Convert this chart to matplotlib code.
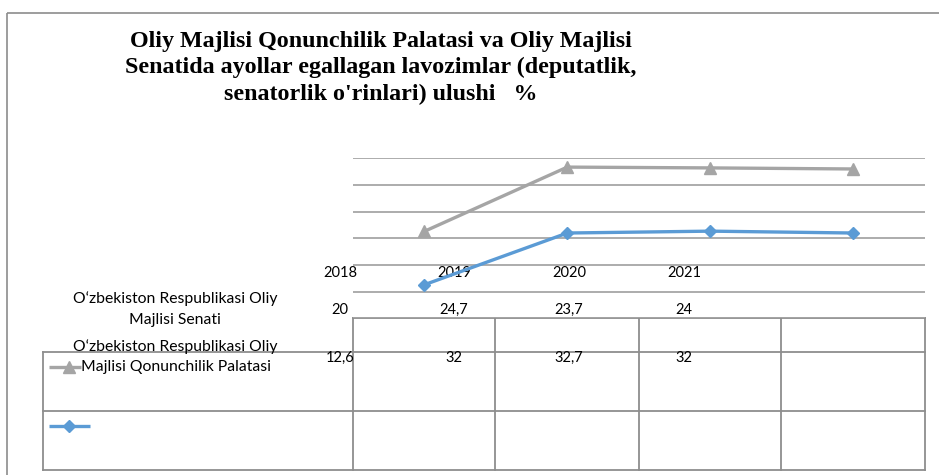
import matplotlib
matplotlib.use("Agg")
import matplotlib.pyplot as plt
import numpy as np

# ---- data ----
years = ["2018", "2019", "2020", "2021"]
senat = [20, 24.7, 23.7, 24]            # O'zbekiston Respublikasi Oliy Majlisi Senati
palata = [12.6, 32, 32.7, 32]           # O'zbekiston Respublikasi Oliy Majlisi Qonunchilik Palatasi
row_labels = ["O\u2018zbekiston Respublikasi Oliy\nMajlisi Senati",
              "O\u2018zbekiston Respublikasi Oliy\nMajlisi Qonunchilik Palatasi"]
title = ("Oliy Majlisi Qonunchilik Palatasi va Oliy Majlisi\n"
         "Senatida ayollar egallagan lavozimlar (deputatlik,\n"
         "senatorlik o'rinlari) ulushi   %")
yticks = [0, 10, 20, 30, 40, 50, 60]

def fmt(v):
    s = ("%g" % v)
    return s.replace(".", ",")

W, H = 939, 475
fig = plt.figure(figsize=(W / 100, H / 100), dpi=100)
fig.patch.set_facecolor("white")

# overlay in pixel coordinates (behind main axes)
ov = fig.add_axes([0, 0, 1, 1], zorder=-1)
ov.set_xlim(0, W)
ov.set_ylim(H, 0)
ov.axis("off")

frame_c = "#8C8C8C"
table_c = "#8E8E8E"
grid_c = "#A6A6A6"
blue = "#5B9BD5"
gray = "#A5A5A5"
txt_font = "Lato"

# outer chart frame (top + left visible)
ov.plot([7, W], [12.7, 12.7], color=frame_c, lw=1.2, solid_capstyle="butt")
ov.plot([7, 7], [12.7, H], color=frame_c, lw=1.2, solid_capstyle="butt")

# title
tfs = 17.3
for line, yb in zip(title.split("\n"), [46.7, 73.3, 100]):
    ov.text(381, yb, line, ha="center", va="baseline",
            family="Liberation Serif", weight="bold", fontsize=tfs, color="black")

# main plotting axes
ax_l, ax_r, ax_t, ax_b = 352.7, 925, 158.3, 318.4
ax = fig.add_axes([ax_l / W, (H - ax_b) / H, (ax_r - ax_l) / W, (ax_b - ax_t) / H], zorder=1)
ax.patch.set_alpha(0)
x = np.arange(len(years))
ax.set_xlim(-0.5, len(years) - 0.5)
ax.set_ylim(yticks[0], yticks[-1])
ax.set_yticks(yticks)
ax.set_xticks([])
ax.tick_params(left=False, labelleft=False)
for s in ax.spines.values():
    s.set_visible(False)
ax.yaxis.grid(True, color=grid_c, lw=1.3)
ax.set_axisbelow(True)

stack_bottom = np.array(palata)
stack_top = stack_bottom + np.array(senat)
ax.plot(x, stack_top, color=gray, lw=2.4, marker="^", ms=8, zorder=3)
ax.plot(x, stack_bottom, color=blue, lw=2.4, marker="D", ms=6, zorder=3)

# data table grid
cols = [352.7, 495, 639, 781, 925]
ov.plot([352.7, 925], [318, 318], color=table_c, lw=1.3)
for yy in [352, 411, 469.5]:
    ov.plot([42.7, 925], [yy, yy], color=table_c, lw=1.3)
ov.plot([42.7, 42.7], [352, 469.5], color=table_c, lw=1.3)
for cx in cols:
    ov.plot([cx, cx], [318, 469.5], color=table_c, lw=1.3)

# table texts
txt_x = [340, 454, 569, 684]
fs = 10.5
lfs = 11.3
for xi, yr in zip(txt_x, years):
    ov.text(xi, 276.7, yr, ha="center", va="baseline", family=txt_font, fontsize=fs)
for xi, v in zip(txt_x, senat):
    ov.text(xi, 314, fmt(v), ha="center", va="baseline", family=txt_font, fontsize=fs)
for xi, v in zip(txt_x, palata):
    ov.text(xi, 361.7, fmt(v), ha="center", va="baseline", family=txt_font, fontsize=fs)

# row labels
l1 = row_labels[0].split("\n")
l2 = row_labels[1].split("\n")
ov.text(175, 303.3, l1[0], ha="center", va="baseline", family=txt_font, fontsize=lfs)
ov.text(175, 324, l1[1], ha="center", va="baseline", family=txt_font, fontsize=lfs)
ov.text(175, 350.7, l2[0], ha="center", va="baseline", family=txt_font, fontsize=lfs)
ov.text(176, 370.7, l2[1], ha="center", va="baseline", family=txt_font, fontsize=lfs, zorder=5)

# legend keys
ov.plot([49, 81], [367, 367], color=gray, lw=2.4, solid_capstyle="butt")
ov.plot([69], [367], color=gray, marker="^", ms=8, lw=0)
ov.plot([49, 90], [426, 426], color=blue, lw=2.4, solid_capstyle="butt")
ov.plot([69], [426], color=blue, marker="D", ms=6, lw=0)

fig.savefig("out.png", dpi=100, facecolor="white")
